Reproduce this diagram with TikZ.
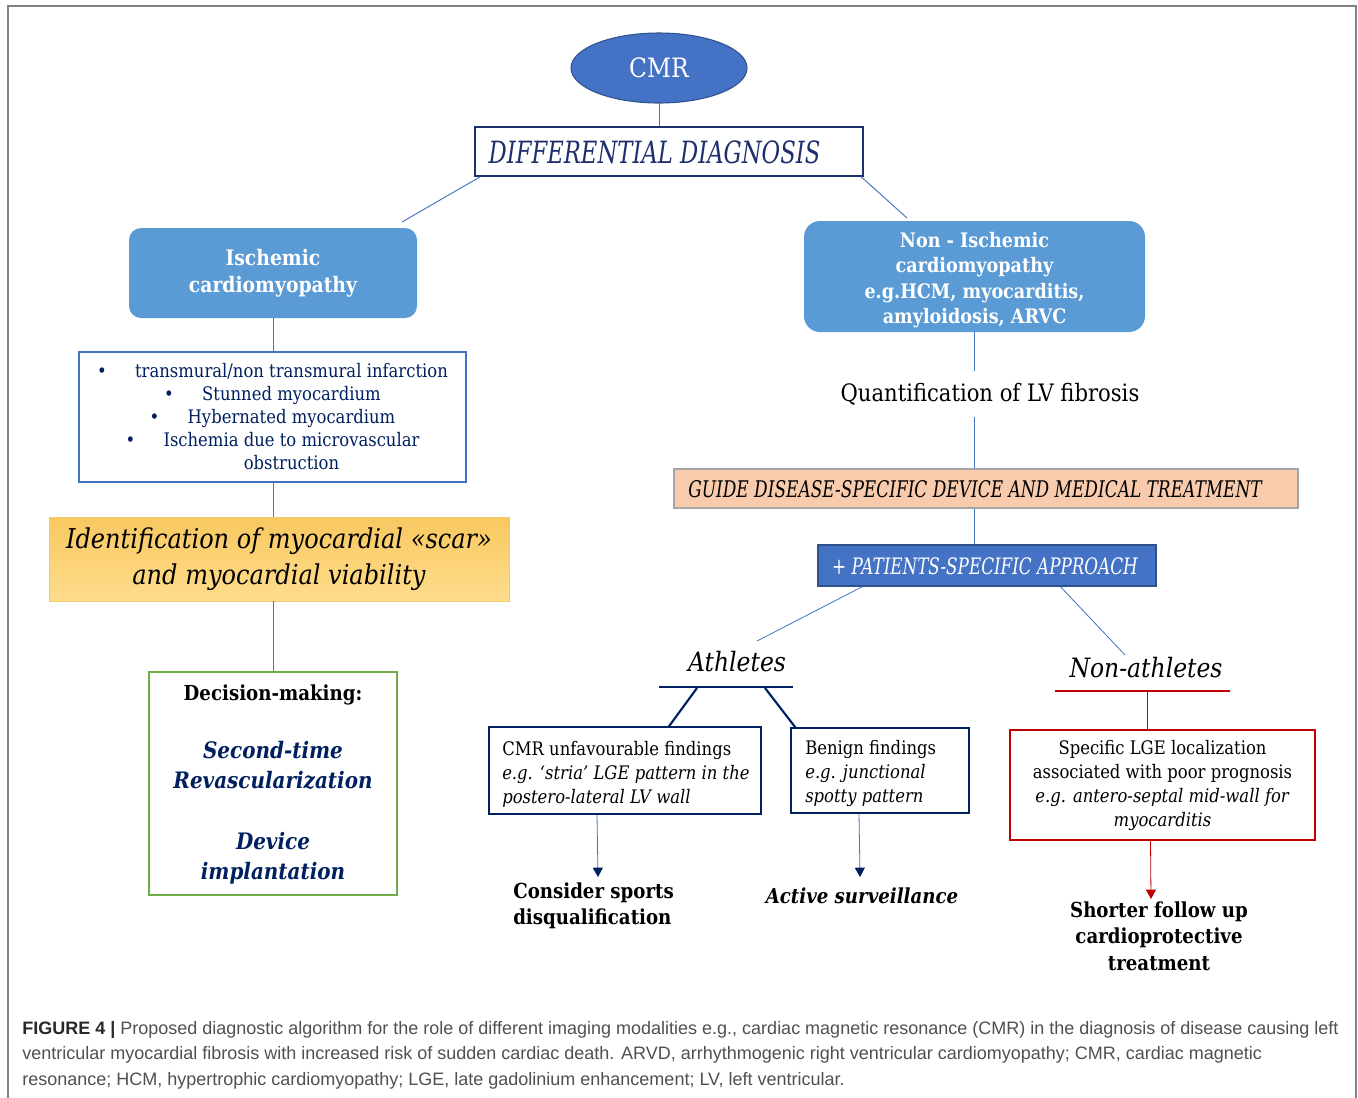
\documentclass[tikz,border=0pt]{standalone}
\usepackage{fontspec}
\setmainfont{DejaVu Serif}[FakeStretch=0.88]
\newfontfamily\capsfont{DejaVu Serif}[FakeStretch=0.74]
\newfontfamily\captionfont{Liberation Sans}
\usetikzlibrary{shapes.geometric,arrows.meta,calc}
\definecolor{navy}{RGB}{0,32,96}
\definecolor{ddblue}{RGB}{31,47,110}
\definecolor{cmrfill}{RGB}{68,114,196}
\definecolor{cmrborder}{RGB}{47,82,143}
\definecolor{lightbox}{RGB}{91,155,213}
\definecolor{connblue}{RGB}{68,114,196}
\definecolor{scartop}{RGB}{248,200,96}
\definecolor{scarbot}{RGB}{255,221,140}
\definecolor{scarborder}{RGB}{246,200,110}
\definecolor{decgreen}{RGB}{112,173,71}
\definecolor{guidefill}{RGB}{248,203,173}
\definecolor{guideborder}{RGB}{165,165,165}
\definecolor{redline}{RGB}{192,0,0}
\definecolor{framegray}{RGB}{130,130,130}
\definecolor{captext}{RGB}{80,80,80}
\definecolor{capbold}{RGB}{40,40,40}
\newcommand\fsz[2]{\fontsize{#1}{#2}\selectfont}
\newcommand\bulmark{\makebox[28.5pt][l]{•}}
\begin{document}
\begin{tikzpicture}[x=0.75pt,y=-0.75pt,
  sz/.style 2 args={minimum width=#1*0.75pt, minimum height=#2*0.75pt, inner sep=0pt},
  txt/.style={inner sep=0pt},
  link/.style={draw=connblue, line width=0.7pt},
  navyarrow/.style={draw=connblue, line width=0.6pt, -{Triangle[navy, width=7.5pt, length=7pt]}},
  redarrow/.style={draw=redline, line width=0.6pt, -{Triangle[width=7.5pt, length=7pt]}},
  captxt/.style={inner sep=0pt, anchor=base west, font=\captionfont\fsz{13.5}{16}, text=captext}
]
\useasboundingbox (0,0) rectangle (1358,1097);
\fill[white] (0,0) rectangle (1358,1097);
\draw[framegray, line width=0.8pt] (8,1100) -- (8,6) -- (1356,6) -- (1356,1100);

% top
\node[ellipse, fill=cmrfill, draw=cmrborder, line width=0.8pt, sz={176}{70}, text=white, font=\fsz{20}{24}] (cmr) at (659,68) {CMR};
\node[draw=ddblue, line width=1.1pt, sz={388}{49}] (dd) at (669,151.5) {};
\node[txt, font=\capsfont\itshape\fsz{23}{28}, text=ddblue] (ddt) at (654.5,152) {DIFFERENTIAL DIAGNOSIS};
\draw[link] (cmr.south) -- (cmr.south |- dd.north);
\coordinate (iscTop) at (402,222);
\coordinate (nisTop) at (907,218);
\draw[link] ([xshift=4.5pt]dd.south west) -- (iscTop);
\draw[link] ([xshift=-2pt]dd.south east) -- (nisTop);

% left column
\node[fill=lightbox, rounded corners=9pt, sz={288}{90}, text=white, font=\bfseries\fsz{16}{20}, align=center] (isch) at (273,273) {Ischemic\\cardiomyopathy};
\node[draw=connblue, line width=0.9pt, sz={387}{130}, text=navy, font=\fsz{14}{17.25}, align=center] (bul) at (272.5,417) {\bulmark transmural/non transmural infarction\\\bulmark Stunned myocardium\\\bulmark Hybernated myocardium\\\bulmark Ischemia due to microvascular\\\hspace*{28.5pt}obstruction};
\node[draw=scarborder, top color=scartop, bottom color=scarbot, sz={460}{84}, font=\itshape\fsz{20.5}{27}, align=center] (scar) at (279,559) {Identification of myocardial «scar»\\and myocardial viability};
\node[draw=decgreen, line width=2.2pt, sz={248}{223}] (dec) at (273,783.5) {};
\node[txt, font=\bfseries\fsz{15.5}{19}] (dect) at (273,695) {Decision-making:};
\node[txt, font=\bfseries\itshape\fsz{17}{22.5}, text=navy, align=center] (dec1) at (273,765) {Second-time\\Revascularization};
\node[txt, font=\bfseries\itshape\fsz{17}{22.5}, text=navy, align=center] (dec2) at (273,858) {Device\\implantation};
\draw[link] (isch.south) -- (isch.south |- bul.north);
\draw[link] (isch.south |- bul.south) -- (isch.south |- scar.north);
\draw[link] (isch.south |- scar.south) -- (isch.south |- dec.north);

% right column
\node[fill=lightbox, rounded corners=12pt, sz={341}{111}] (nisch) at (974.5,276.5) {};
\node[txt, text=white, font=\bfseries\fsz{15}{19}, align=center] (nischt) at (974.5,280) {Non - Ischemic\\cardiomyopathy\\e.g.HCM, myocarditis,\\amyloidosis, ARVC};
\node[font=\fsz{18}{22}, inner xsep=0pt, inner ysep=9pt] (quant) at (990,394) {Quantification of LV fibrosis};
\node[draw=guideborder, fill=guidefill, line width=0.9pt, sz={624}{39}] (guide) at (986,488.5) {};
\node[txt, font=\capsfont\itshape\fsz{17.2}{21}] (guidet) at (975,489) {GUIDE DISEASE-SPECIFIC DEVICE AND MEDICAL TREATMENT};
\node[draw=cmrborder, fill=cmrfill, line width=0.9pt, sz={338}{41}] (pat) at (987,565.5) {};
\node[txt, font=\capsfont\itshape\fsz{17}{21}, text=white] (patt) at (985,566) {+ PATIENTS-SPECIFIC APPROACH};
\draw[link] (nisch.south) -- (nisch.south |- quant.north);
\draw[link] (nisch.south |- quant.south) -- (nisch.south |- guide.north);
\draw[link] (nisch.south |- guide.south) -- (nisch.south |- pat.north);

% athletes
\node[txt, font=\itshape\fsz{20}{24}] (ath) at (737,662) {Athletes};
\coordinate (athL) at (659,687);
\coordinate (athR) at (793,687);
\coordinate (athA) at (697,688);
\coordinate (athB) at (765,688);
\coordinate (athTop) at (757,641);
\draw[navy, line width=1.6pt] (athL) -- (athR);
\draw[link, line width=0.6pt] ([xshift=33.75pt]pat.south west) -- (athTop);
\node[draw=navy, line width=1.1pt, sz={272}{87}] (unfav) at (625,770.5) {};
\node[txt, anchor=west, font=\fsz{14}{18}, align=left] (unfavt) at (502,774) {CMR unfavourable findings\\\textit{e.g. ‘stria’ LGE pattern in the}\\\textit{postero-lateral LV wall}};
\node[draw=navy, line width=1.1pt, sz={178}{85}] (ben) at (880,770.5) {};
\node[txt, anchor=west, font=\fsz{14}{18}, align=left] (bent) at (805,773) {Benign findings\\\textit{e.g. junctional}\\\textit{spotty pattern}};
\draw[navy, line width=1.6pt] (athA) -- ([xshift=33pt]unfav.north);
\draw[navy, line width=1.6pt] (athB) -- ([xshift=3.75pt]ben.north west);
\coordinate (consTip) at (598,877);
\coordinate (actTip) at (860,877);
\draw[navyarrow] ([xshift=-21pt]unfav.south) -- (consTip);
\draw[navyarrow] ([xshift=-15.75pt]ben.south) -- (actTip);
\node[txt, anchor=west, font=\bfseries\fsz{15.5}{19.5}, align=left] (cons) at (513,906) {Consider sports\\disqualification};
\node[txt, font=\bfseries\itshape\fsz{15.5}{19}] (act) at (862,896) {Active surveillance};

% non-athletes
\node[txt, font=\itshape\fsz{20}{24}] (nath) at (1146,668) {Non-athletes};
\coordinate (nL) at (1055,691);
\coordinate (nR) at (1230,691);
\coordinate (nM) at (1147,691);
\coordinate (nathTop) at (1125,655);
\draw[link, line width=0.6pt] ([xshift=182.25pt]pat.south west) -- (nathTop);
\draw[redline, line width=1.6pt] (nL) -- (nR);
\node[draw=redline, line width=0.9pt, sz={305}{110}, font=\fsz{14}{18}, align=center] (spec) at (1162.5,785) {Specific LGE localization\\associated with poor prognosis\\\textit{e.g. antero-septal mid-wall for}\\\textit{myocarditis}};
\draw[redline, line width=0.6pt] (nM) -- (nM |- spec.north);
\coordinate (shortTip) at (1151,899);
\draw[redarrow] ([xshift=-9pt]spec.south) -- (shortTip);
\node[txt, font=\bfseries\fsz{15.5}{20}, align=center] (short) at (1159,936) {Shorter follow up\\cardioprotective\\treatment};

% caption
\node[captxt] (cap1) at (22,1034) {{\bfseries\color{capbold}FIGURE 4 |} Proposed diagnostic algorithm for the role of different imaging modalities e.g., cardiac magnetic resonance (CMR) in the diagnosis of disease causing left};
\node[captxt] (cap2) at (22,1059.5) {ventricular myocardial fibrosis with increased risk of sudden cardiac death. ARVD, arrhythmogenic right ventricular cardiomyopathy; CMR, cardiac magnetic};
\node[captxt] (cap3) at (22,1085) {resonance; HCM, hypertrophic cardiomyopathy; LGE, late gadolinium enhancement; LV, left ventricular.};
\end{tikzpicture}
\end{document}
